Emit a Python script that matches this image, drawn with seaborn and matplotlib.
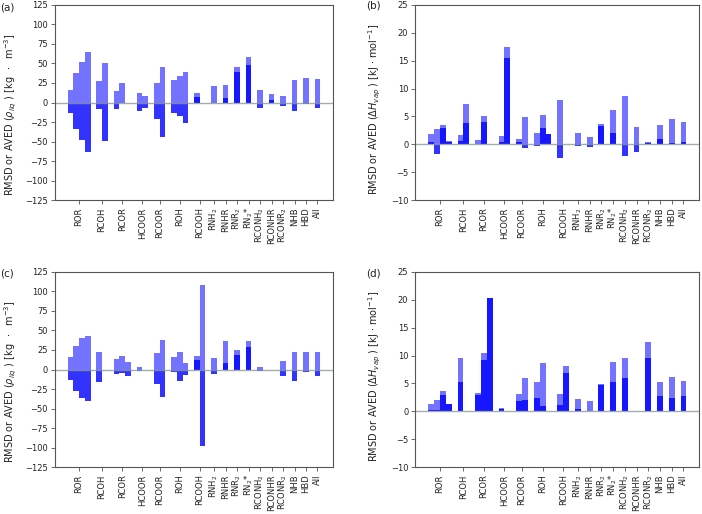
import numpy as np
import matplotlib
matplotlib.use("Agg")
import matplotlib.pyplot as plt
import seaborn as sns

sns.set_style("ticks")
plt.rcParams['font.family'] = ['DejaVu Sans']

# groups and how many sub-bars (slots) each one holds
groups = ["ROR", "RCOH", "RCOR", "HCOOR", "RCOOR", "ROH", "RCOOH",
          r"RNH$_2$", "RNHR", r"RNR$_2$", r"RN$_2$*", r"RCONH$_2$",
          "RCONHR", r"RCONR$_2$", "NHB", "HBD", "All"]
slots = [4, 2, 3, 2, 2, 3, 2, 1, 1, 1, 1, 1, 1, 1, 1, 1, 1]

nan = np.nan
# (a) density, first set
rmsd_a = [15.8, 37.9, 52.0, 64.3, 27.7, 50.3, 14.9, 24.7, nan, 12.0, 7.7,
          24.3, 46.0, 29.0, 34.5, 39.2, 12.2, nan,
          20.6, 21.9, 46.0, 58.0, 15.4, 11.0, 8.5, 29.0, 31.0, 30.2]
aved_a = [-13.6, -34.0, -48.0, -63.5, -8.5, -49.8, -8.0, 0.0, nan, -10.5, -6.5,
          -20.9, -44.7, -13.6, -17.0, -26.8, 7.3, nan,
          -1.0, 5.5, 39.6, 48.2, -7.2, 3.4, -5.1, -11.5, -1.7, -7.2]
# (b) enthalpy of vaporisation, first set
rmsd_b = [1.8, 2.7, 3.5, 0.6, 1.6, 7.2, 0.8, 5.1, nan, 1.5, 17.5,
          1.0, 4.9, 2.1, 5.2, 1.9, 8.0, nan,
          2.1, 1.3, 3.6, 6.1, 8.7, 3.1, 0.4, 3.5, 4.5, 4.1]
aved_b = [0.5, -1.7, 3.0, 0.5, 0.6, 3.8, 0.1, 4.1, nan, 0.5, 15.5,
          0.5, -0.6, -0.2, 3.0, 1.9, -2.4, nan,
          -0.25, -0.5, 3.3, 2.1, -2.0, -1.4, 0.2, 1.0, 0.3, 0.5]
# (c) density, second set
rmsd_c = [16.0, 30.4, 39.8, 42.4, 21.9, nan, 13.0, 17.7, 9.6, 3.2, nan,
          21.0, 37.7, 16.4, 21.9, 7.9, 17.2, 107.5,
          14.3, 36.4, 25.3, 36.4, 2.8, nan, 11.3, 22.8, 22.8, 22.8]
aved_c = [-13.8, -27.5, -36.4, -40.2, -15.5, nan, -6.2, -4.9, -8.7, -2.3, nan,
          -18.5, -35.6, -2.8, -15.1, -7.5, 12.1, -98.2,
          -5.3, 8.3, 18.5, 28.3, -2.3, nan, -8.3, -14.3, -3.6, -8.7]
# (d) enthalpy of vaporisation, second set
rmsd_d = [1.4, 2.1, 3.7, 1.4, 9.6, nan, 3.3, 10.4, 20.3, 0.7, nan,
          3.2, 5.9, 5.2, 8.7, nan, 3.1, 8.1,
          2.2, 1.8, 4.9, 8.9, 9.5, nan, 12.5, 5.2, 6.1, 5.5]
aved_d = [0.2, 0.3, 2.9, 1.3, 5.3, nan, 2.9, 9.2, 20.3, 0.35, nan,
          1.9, 2.0, 2.4, 0.9, nan, 1.1, 6.8,
          0.35, 0.05, 4.8, 5.2, 6.0, nan, 9.6, 2.7, 2.4, 2.7]

ylab_rho = r"RMSD or AVED ($\rho_{liq}$ ) [kg $\;\cdot\;$ m$^{-3}$]"
ylab_h = r"RMSD or AVED ($\Delta H_{vap}$ ) [kJ $\cdot$ mol$^{-1}$]"

# slot positions: adjacent bars inside a group, one unit between groups
xpos, ticks = [], []
x = 0.0
for n in slots:
    xs = [x + 0.5 * k for k in range(n)]
    xpos += xs
    ticks.append(np.mean(xs))
    x = xs[-1] + 1.0
xpos = np.array(xpos)

fs = 6.0
fig = plt.figure(figsize=(7.02, 5.14), dpi=100)
W, H = 702, 514
boxes = {
    "a": (55, 4.7, 333, 200.3),
    "b": (415.3, 4.7, 699.3, 200.3),
    "c": (55, 271.7, 333, 467.3),
    "d": (415.3, 271.7, 699.3, 467.3),
}
# key, values, y-range, tick step, y label, letter position, label x / y offset (px)
panels = [
    ("a", rmsd_a, aved_a, (-125, 125), 25, ylab_rho, (0, 8), 19, 12),
    ("b", rmsd_b, aved_b, (-10, 25), 5, ylab_h, (366, 6), 383, 7),
    ("c", rmsd_c, aved_c, (-125, 125), 25, ylab_rho, (0, 273), 19, 12),
    ("d", rmsd_d, aved_d, (-10, 25), 5, ylab_h, (366, 273), 383, 7),
]

for key, rmsd, aved, ylim, step, ylab, lpos, labx, laby in panels:
    x0, y0, x1, y1 = boxes[key]
    ax = fig.add_axes([x0 / W, 1 - y1 / H, (x1 - x0) / W, (y1 - y0) / H])
    ax.bar(xpos, rmsd, width=0.5, color="blue", alpha=0.55, linewidth=0)
    ax.bar(xpos, aved, width=0.5, color="blue", alpha=0.8, linewidth=0)
    ax.axhline(0, color="#8a9a94", lw=1.0, alpha=0.8)
    ax.set_ylim(*ylim)
    ax.set_yticks(np.arange(ylim[0], ylim[1] + 1, step))
    ax.set_xticks(ticks)
    ax.set_xticklabels(groups, rotation=90)
    ax.tick_params(labelsize=fs, length=3, width=0.6, color="#555555",
                   labelcolor="#222222", pad=2)
    ax.set_ylabel(ylab, fontsize=7.0, color="#222222")
    ax.yaxis.set_label_coords((labx - x0) / (x1 - x0), 0.5 - laby / (y1 - y0))
    for s in ax.spines.values():
        s.set_color("#555555")
        s.set_linewidth(0.8)
    fig.text(lpos[0] / W, 1 - lpos[1] / H, f"({key})", fontsize=7.5,
             va="center", ha="left", color="#222222")

fig.savefig("out.png", dpi=100)
